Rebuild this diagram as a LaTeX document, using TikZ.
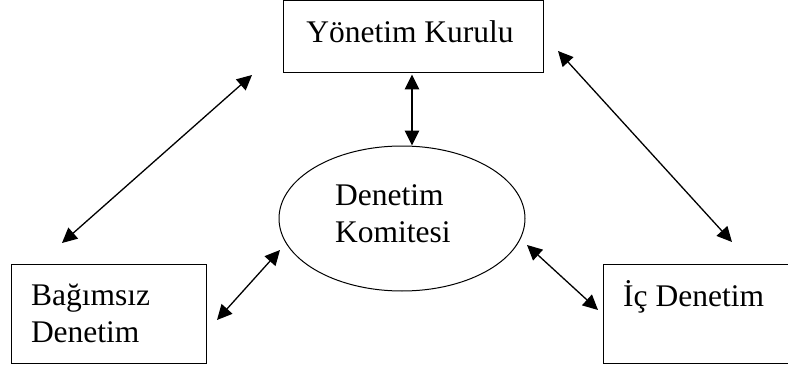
\documentclass[tikz,border=0pt]{standalone}
\usepackage{fontspec}
\setmainfont{Liberation Serif}
\usetikzlibrary{arrows.meta,shapes.geometric}
\begin{document}
\begin{tikzpicture}[x=1pt,y=-1pt,
  lbl/.style={inner sep=0pt, font=\fontsize{31.5}{37}\selectfont},
  boxshape/.style={draw, line width=1pt, inner sep=0pt},
  conn/.style={line width=1.3pt, {Triangle[length=15pt,width=14.5pt]}-{Triangle[length=15pt,width=14.5pt]}}]
\useasboundingbox (0,0) rectangle (788,369);
\clip (0,0) rectangle (788,369);
% shapes
\node[boxshape, minimum width=260pt, minimum height=72pt] (yk) at (413,37) {};
\node[boxshape, minimum width=195pt, minimum height=99pt] (bd) at (108.5,313.5) {};
\node[boxshape, minimum width=197pt, minimum height=99pt] (id) at (701.5,313.5) {};
\node[boxshape, ellipse, minimum width=246pt, minimum height=145pt] (dk) at (402,218.5) {};
% texts
\node[lbl, anchor=base] (yktext) at (410,43) {Yönetim Kurulu};
\node[lbl, align=left] (bdtext) at (90.5,312.9) {Bağımsız\\Denetim};
\node[lbl, anchor=base west] (idtext) at (623,306) {İç Denetim};
\node[lbl, align=left] (dktext) at (392.8,213.4) {Denetim\\Komitesi};
% connector ends
\coordinate (v1) at (412,74.5);
\coordinate (v2) at (412,145.5);
\coordinate (l1) at (252,75);
\coordinate (l2) at (62,243);
\coordinate (r1) at (558,51);
\coordinate (r2) at (732,242);
\coordinate (sl1) at (280,250);
\coordinate (sl2) at (217,320);
\coordinate (sr1) at (527,245);
\coordinate (sr2) at (598,310);
% connectors
\draw[conn] (v1) -- (v2);
\draw[conn] (l1) -- (l2);
\draw[conn] (r1) -- (r2);
\draw[conn] (sl1) -- (sl2);
\draw[conn] (sr1) -- (sr2);
\end{tikzpicture}
\end{document}
